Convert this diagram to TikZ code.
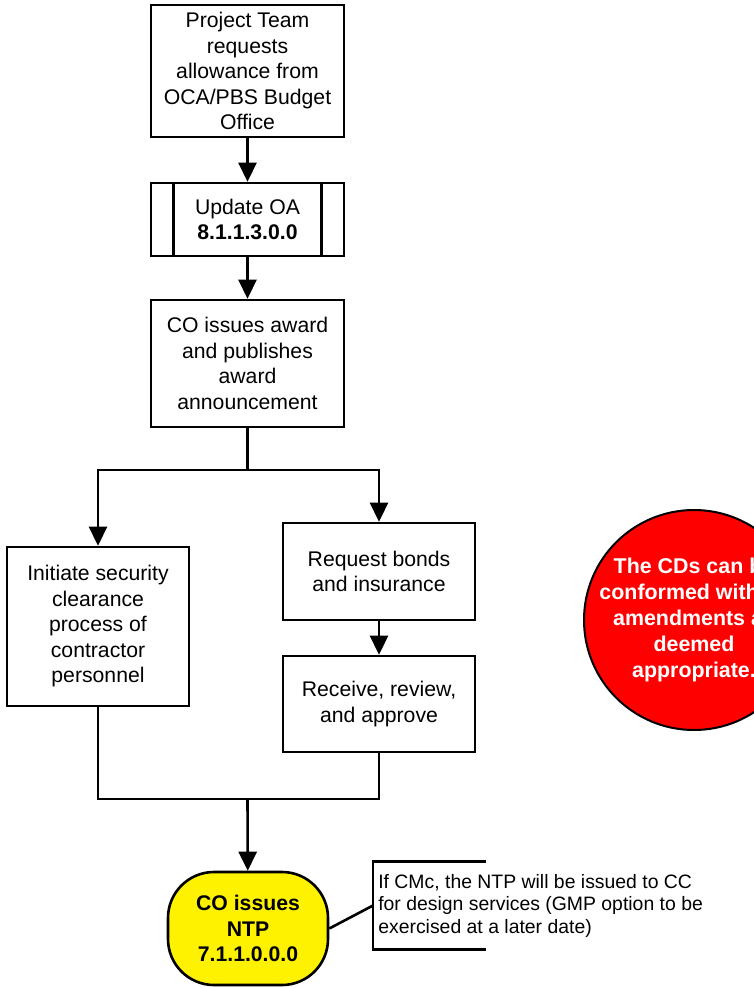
\documentclass[tikz,border=0pt]{standalone}
\usepackage{fontspec}
\setmainfont{Liberation Sans}
\usetikzlibrary{arrows.meta}

\begin{document}
\begin{tikzpicture}[x=1pt,y=-1pt,line width=2.6pt,
  box/.style={draw,rectangle,align=center,font=\fontsize{21.2}{25.5}\selectfont},
  arr/.style={-{Triangle[length=19pt,width=18pt]}}]
  \clip (0,0) rectangle (754,988);
  % main column
  \node[box,minimum width=193pt,minimum height=132pt] (req) at (247.5,71) {Project Team\\requests\\allowance from\\OCA/PBS Budget\\Office};
  \node[box,minimum width=193pt,minimum height=73pt] (upd) at (247.5,219.5) {Update OA\\\textbf{8.1.1.3.0.0}};
  \draw ([xshift=24pt]upd.north west)--([xshift=24pt]upd.south west); \draw ([xshift=-24pt]upd.north east)--([xshift=-24pt]upd.south east);
  \node[box,minimum width=193pt,minimum height=127pt] (award) at (247.5,363.5) {CO issues award\\and publishes\\award\\announcement};
  % two branches
  \node[box,minimum width=182pt,minimum height=159pt] (sec) at (98,626.5) {Initiate security\\clearance\\process of\\contractor\\personnel};
  \node[box,minimum width=192pt,minimum height=97pt] (bonds) at (379,571.5) {Request bonds\\and insurance};
  \node[box,minimum width=192pt,minimum height=96pt] (recv) at (379,704) {Receive, review,\\and approve};
  \coordinate (split) at (247.5,470); \coordinate (join) at (247.5,799);
  \node[box,fill=yellow,rounded corners=46pt,minimum width=160pt,minimum height=113pt,font=\fontsize{21.2}{25.5}\selectfont\bfseries] (ntp) at (248,928.5) {CO issues\\NTP\\7.1.1.0.0.0};
  \node[anchor=west,align=left,inner xsep=4pt,minimum height=85pt,font=\fontsize{19.4}{22.5}\selectfont] (note) at (373,905.5) {If CMc, the NTP will be issued to CC\\for design services (GMP option to be\\exercised at a later date)};
  \draw ([xshift=113pt]note.north west)--(note.north west)--(note.south west)--([xshift=113pt]note.south west);
  % red remark
  \node[draw,circle,fill=red,line width=2pt,inner sep=0pt,minimum size=220pt] (cds) at (694,620) {};
  \node[text=white,align=center,font=\fontsize{21.4}{26}\selectfont\bfseries] (cdstext) at (cds.center) {The CDs can be\\conformed with all\\amendments as\\deemed\\appropriate.};
  % connectors
  \draw[arr] (req)--(upd); \draw[arr] (upd)--(award);
  \draw (award)--(split); \draw[arr] (split)-|(sec.north); \draw[arr] (split)-|(bonds.north);
  \draw[arr] (bonds)--(recv);
  \draw (sec)|-(join); \draw (recv)|-(join); \draw[arr] (join)--(ntp);
  \draw (ntp.east)--(note.west);
\end{tikzpicture}
\end{document}
